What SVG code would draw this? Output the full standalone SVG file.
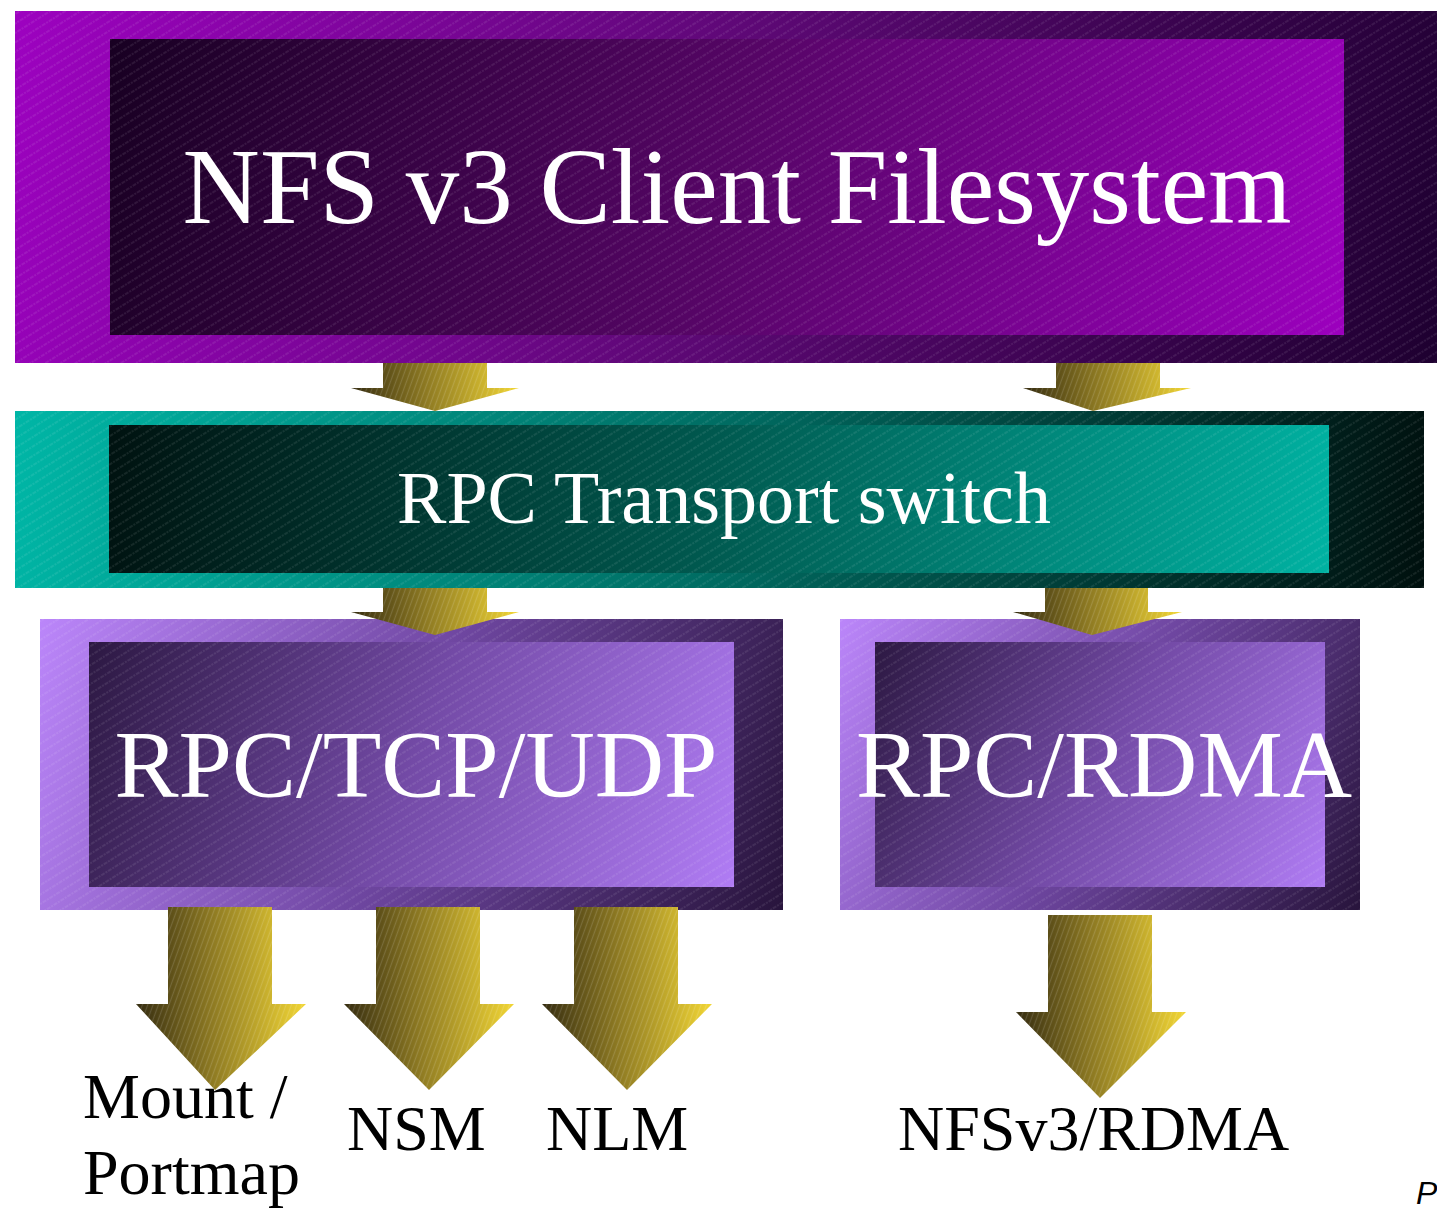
<svg xmlns="http://www.w3.org/2000/svg" width="1437" height="1217" viewBox="0 0 1437 1217">
  <defs>
    <!-- colour ramps: outer frames go light to dark, inner panels dark to light -->
    <linearGradient id="violetOut">
      <stop offset="0" stop-color="#9d02c0"/>
      <stop offset="0.5" stop-color="#5c0874"/>
      <stop offset="1" stop-color="#1e0030"/>
    </linearGradient>
    <linearGradient id="violetIn">
      <stop offset="0" stop-color="#180022"/>
      <stop offset="0.5" stop-color="#560566"/>
      <stop offset="1" stop-color="#9c00be"/>
    </linearGradient>
    <linearGradient id="tealOut">
      <stop offset="0" stop-color="#00b6a6"/>
      <stop offset="0.5" stop-color="#006c62"/>
      <stop offset="1" stop-color="#00100e"/>
    </linearGradient>
    <linearGradient id="tealIn">
      <stop offset="0" stop-color="#001210"/>
      <stop offset="0.5" stop-color="#005a50"/>
      <stop offset="1" stop-color="#00b2a2"/>
    </linearGradient>
    <linearGradient id="lilacOut">
      <stop offset="0" stop-color="#bb86fa"/>
      <stop offset="0.5" stop-color="#6e46a0"/>
      <stop offset="1" stop-color="#28143c"/>
    </linearGradient>
    <linearGradient id="lilacIn">
      <stop offset="0" stop-color="#2c1842"/>
      <stop offset="0.5" stop-color="#734aa6"/>
      <stop offset="1" stop-color="#b07cf4"/>
    </linearGradient>

    <!-- per-box placement of the ramps, corner to corner in page space -->
    <linearGradient id="gTopOut" href="#violetOut" gradientUnits="userSpaceOnUse" x1="15" y1="11" x2="1437" y2="363"/>
    <linearGradient id="gTopIn" href="#violetIn" gradientUnits="userSpaceOnUse" x1="110" y1="39" x2="1344" y2="335"/>
    <linearGradient id="gMidOut" href="#tealOut" gradientUnits="userSpaceOnUse" x1="15" y1="411" x2="1424" y2="588"/>
    <linearGradient id="gMidIn" href="#tealIn" gradientUnits="userSpaceOnUse" x1="109" y1="425" x2="1329" y2="573"/>
    <linearGradient id="gLOut" href="#lilacOut" gradientUnits="userSpaceOnUse" x1="40" y1="619" x2="783" y2="910"/>
    <linearGradient id="gLIn" href="#lilacIn" gradientUnits="userSpaceOnUse" x1="89" y1="642" x2="734" y2="887"/>
    <linearGradient id="gROut" href="#lilacOut" gradientUnits="userSpaceOnUse" x1="840" y1="619" x2="1360" y2="910"/>
    <linearGradient id="gRIn" href="#lilacIn" gradientUnits="userSpaceOnUse" x1="875" y1="642" x2="1325" y2="887"/>

    <linearGradient id="gold" x1="0" y1="0" x2="1" y2="0">
      <stop offset="0" stop-color="#352c10"/>
      <stop offset="0.45" stop-color="#8e7a22"/>
      <stop offset="1" stop-color="#f2d634"/>
    </linearGradient>
    <!-- fine diagonal texture laid over the boxes -->
    <pattern id="hatch" width="8" height="8" patternUnits="userSpaceOnUse" patternTransform="rotate(-32)">
      <line x1="0" y1="4" x2="8" y2="4" stroke="#ffffff" stroke-opacity="0.16" stroke-width="1" stroke-dasharray="2 1"/>
    </pattern>
    <pattern id="grain" width="5" height="5" patternUnits="userSpaceOnUse" patternTransform="rotate(-70)">
      <line x1="0" y1="2.5" x2="5" y2="2.5" stroke="#ffffff" stroke-opacity="0.14" stroke-width="1.2"/>
    </pattern>
  </defs>
  <style>
    .label { font-family: "Liberation Serif", "Times New Roman", serif; fill: #ffffff; text-anchor: middle; }
    .caption { font-family: "Liberation Serif", "Times New Roman", serif; fill: #000000; font-size: 64px; }
    .tex { fill: url(#hatch); }
    .arrow { fill: url(#gold); }
    .arrowTex { fill: url(#grain); }
  </style>

  <rect x="0" y="0" width="1437" height="1217" fill="#ffffff"/>

  <g id="nfs-client">
    <rect x="15" y="11" width="1422" height="352" fill="url(#gTopOut)"/>
    <rect x="110" y="39" width="1234" height="296" fill="url(#gTopIn)"/>
    <rect x="15" y="11" width="1422" height="352" class="tex"/>
    <text class="label" x="737" y="223" font-size="107">NFS v3 Client Filesystem</text>
  </g>

  <g id="rpc-switch">
    <rect x="15" y="411" width="1409" height="177" fill="url(#gMidOut)"/>
    <rect x="109" y="425" width="1220" height="148" fill="url(#gMidIn)"/>
    <rect x="15" y="411" width="1409" height="177" class="tex"/>
    <text class="label" x="724" y="523" font-size="74">RPC Transport switch</text>
  </g>

  <g id="rpc-tcp-udp">
    <rect x="40" y="619" width="743" height="291" fill="url(#gLOut)"/>
    <rect x="89" y="642" width="645" height="245" fill="url(#gLIn)"/>
    <rect x="40" y="619" width="743" height="291" class="tex"/>
    <text class="label" x="416" y="797" font-size="96">RPC/TCP/UDP</text>
  </g>

  <g id="rpc-rdma">
    <rect x="840" y="619" width="520" height="291" fill="url(#gROut)"/>
    <rect x="875" y="642" width="450" height="245" fill="url(#gRIn)"/>
    <rect x="840" y="619" width="520" height="291" class="tex"/>
    <text class="label" x="1104" y="797" font-size="96">RPC/RDMA</text>
  </g>

  <g id="connectors">
    <!-- client -> switch -->
    <path class="arrow" d="M383,363 H487 V388 H519 L435,411 L351,388 H383 Z"/>
    <path class="arrowTex" d="M383,363 H487 V388 H519 L435,411 L351,388 H383 Z"/>
    <path class="arrow" d="M1056,363 H1160 V388 H1191 L1093,411 L1023,388 H1056 Z"/>
    <path class="arrowTex" d="M1056,363 H1160 V388 H1191 L1093,411 L1023,388 H1056 Z"/>
    <!-- switch -> transports -->
    <path class="arrow" d="M383,588 H487 V612 H519 L435,635 L351,612 H383 Z"/>
    <path class="arrowTex" d="M383,588 H487 V612 H519 L435,635 L351,612 H383 Z"/>
    <path class="arrow" d="M1045,588 H1148 V612 H1182 L1092,635 L1013,612 H1045 Z"/>
    <path class="arrowTex" d="M1045,588 H1148 V612 H1182 L1092,635 L1013,612 H1045 Z"/>
    <!-- transports -> services -->
    <path class="arrow" d="M168,907 H272 V1004 H306 L215,1090 L136,1004 H168 Z"/>
    <path class="arrowTex" d="M168,907 H272 V1004 H306 L215,1090 L136,1004 H168 Z"/>
    <path class="arrow" d="M376,907 H480 V1004 H514 L429,1090 L344,1004 H376 Z"/>
    <path class="arrowTex" d="M376,907 H480 V1004 H514 L429,1090 L344,1004 H376 Z"/>
    <path class="arrow" d="M574,907 H678 V1004 H712 L627,1090 L542,1004 H574 Z"/>
    <path class="arrowTex" d="M574,907 H678 V1004 H712 L627,1090 L542,1004 H574 Z"/>
    <path class="arrow" d="M1048,915 H1152 V1012 H1186 L1100,1098 L1016,1012 H1048 Z"/>
    <path class="arrowTex" d="M1048,915 H1152 V1012 H1186 L1100,1098 L1016,1012 H1048 Z"/>
  </g>

  <g id="mount-portmap">
    <text class="caption" x="83" y="1118">Mount /</text>
    <text class="caption" x="83" y="1194">Portmap</text>
  </g>
  <g id="nsm">
    <text class="caption" x="347" y="1150">NSM</text>
  </g>
  <g id="nlm">
    <text class="caption" x="546" y="1150">NLM</text>
  </g>
  <g id="nfsv3-rdma">
    <text class="caption" x="898" y="1150">NFSv3/RDMA</text>
  </g>

  <text x="1416" y="1204" font-family="Liberation Sans, Arial, sans-serif" font-style="italic" font-size="32" fill="#000000">P</text>
</svg>
